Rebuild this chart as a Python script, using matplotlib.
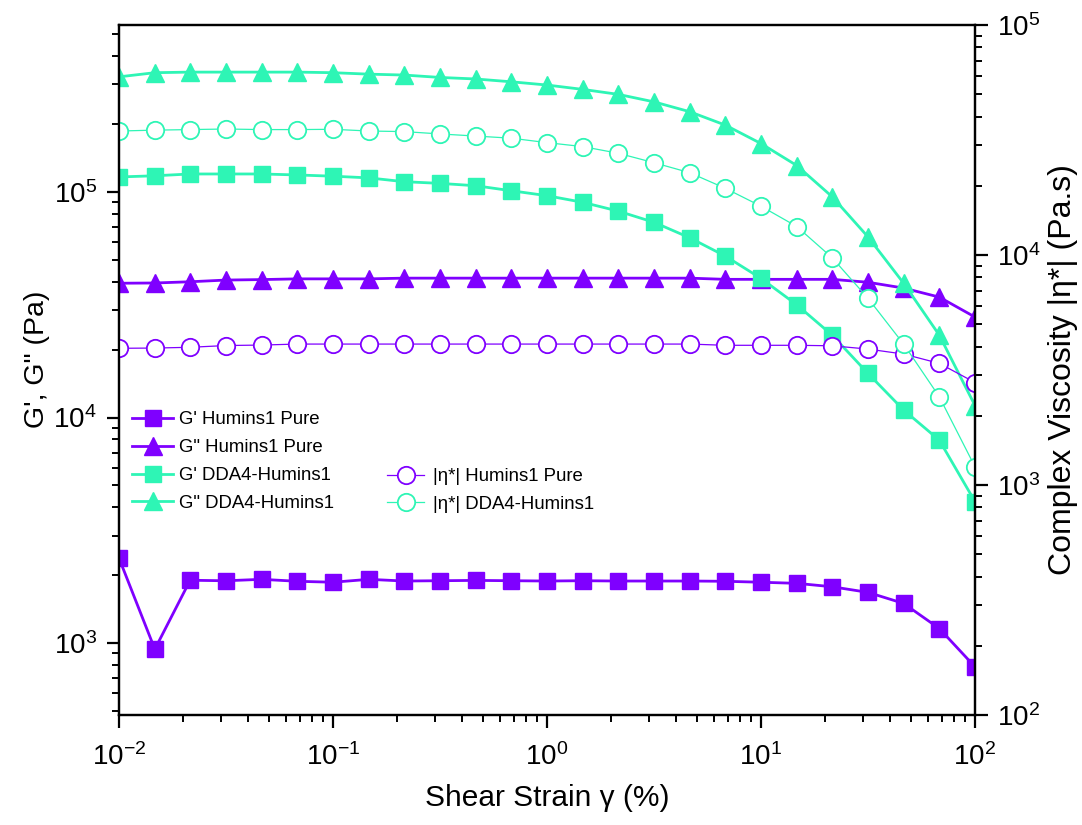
import math
import matplotlib
matplotlib.use("Agg")
import matplotlib.pyplot as plt
from matplotlib.ticker import LogLocator, FuncFormatter, NullFormatter

plt.rcParams['font.family'] = ['Liberation Sans', 'DejaVu Sans']
plt.rcParams['mathtext.fontset'] = 'custom'
plt.rcParams['mathtext.rm'] = 'Liberation Sans'
plt.rcParams['mathtext.it'] = 'Liberation Sans:italic'
plt.rcParams['mathtext.bf'] = 'Liberation Sans:bold'

# Shear strain (%) sweep, 6 points per decade
strain = [0.01, 0.0147, 0.0215, 0.0316, 0.0464, 0.0681,
          0.1, 0.147, 0.215, 0.316, 0.464, 0.681,
          1.0, 1.47, 2.15, 3.16, 4.64, 6.81,
          10.0, 14.7, 21.5, 31.6, 46.4, 68.1, 100.0]

# Storage / loss moduli (Pa)
g1_pure = [2380, 940, 1900, 1890, 1918, 1880, 1862, 1918, 1885, 1891, 1897, 1891,
           1885, 1891, 1885, 1885, 1885, 1880, 1862, 1841, 1778, 1679, 1500, 1161, 785]
g2_pure = [39400, 39500, 40000, 40700, 40900, 41200, 41200, 41200, 41500, 41500, 41500, 41500,
           41500, 41500, 41500, 41500, 41500, 41000, 41000, 41000, 41000, 39800, 37500, 34200, 27900]
g1_dda = [116600, 118000, 120200, 120200, 120200, 119000, 117500, 115500, 111100, 109200,
          106600, 101300, 96300, 90000, 82300, 73400, 62700, 52000, 41400, 31600,
          23200, 15700, 10800, 7940, 4240]
g2_dda = [324000, 338000, 340000, 340000, 340000, 340000, 338000, 333000, 330000, 322000,
          317000, 308000, 298000, 285000, 271000, 251000, 227000, 198000, 164000, 131000,
          95300, 63300, 39400, 23200, 11300]

# Complex viscosity (Pa.s)
eta_pure = [3930, 3940, 3970, 4040, 4060, 4100, 4100, 4100, 4100, 4100, 4100, 4100,
            4100, 4100, 4100, 4100, 4100, 4050, 4050, 4050, 4030, 3900, 3710, 3380, 2790]
eta_dda = [34600, 34900, 35100, 35300, 35100, 35100, 35200, 34600, 34400, 33600,
           32900, 32200, 30800, 29600, 27700, 25200, 22800, 19500, 16300, 13300,
           9730, 6490, 4100, 2420, 1200]

labels_g = ["G' Humins1 Pure", 'G" Humins1 Pure', "G' DDA4-Humins1", 'G" DDA4-Humins1']
labels_eta = ["|η*| Humins1 Pure", "|η*| DDA4-Humins1"]

purple = '#7F00FF'
green = '#2EF5B5'

fig = plt.figure(figsize=(10.82, 8.25), dpi=100)
ax = fig.add_axes([0.1100, 0.1333, 0.7911, 0.8364])
ax2 = ax.twinx()

lw = 2.0
h1, = ax.plot(strain, g1_pure, '-s', color=purple, lw=lw, ms=11, label=labels_g[0])
h2, = ax.plot(strain, g2_pure, '-^', color=purple, lw=lw, ms=12.5, label=labels_g[1])
h3, = ax.plot(strain, g1_dda, '-s', color=green, lw=lw, ms=11, label=labels_g[2])
h4, = ax.plot(strain, g2_dda, '-^', color=green, lw=lw, ms=12.5, label=labels_g[3])

h5, = ax2.plot(strain, eta_pure, '-o', color=purple, lw=0.9, ms=12.5, mfc='white',
               mec=purple, mew=1.3, label=labels_eta[0])
h6, = ax2.plot(strain, eta_dda, '-o', color=green, lw=0.9, ms=12.5, mfc='white',
               mec=green, mew=1.3, label=labels_eta[1])

ax.set_xscale('log')
ax.set_yscale('log')
ax2.set_yscale('log')
ax.set_xlim(0.01, 100)
ax.set_ylim(480, 5.5e5)
ax2.set_ylim(100, 1e5)


def sci(v, pos):
    e = int(round(math.log10(v)))
    return r'$\mathregular{10^{%d}}$' % e


for a in (ax, ax2):
    for s in a.spines.values():
        s.set_linewidth(1.6)

ax.xaxis.set_major_locator(LogLocator(base=10, numticks=10))
ax.xaxis.set_minor_locator(LogLocator(base=10, subs=range(2, 10), numticks=20))
ax.xaxis.set_major_formatter(FuncFormatter(sci))
ax.xaxis.set_minor_formatter(NullFormatter())
for a in (ax, ax2):
    a.yaxis.set_major_locator(LogLocator(base=10, numticks=10))
    a.yaxis.set_minor_locator(LogLocator(base=10, subs=range(2, 10), numticks=20))
    a.yaxis.set_major_formatter(FuncFormatter(sci))
    a.yaxis.set_minor_formatter(NullFormatter())

ax.tick_params(axis='x', which='major', direction='out', length=9, width=1.6,
               labelsize=20, top=False, pad=11)
ax.tick_params(axis='y', which='major', direction='out', length=9, width=1.6,
               labelsize=20, right=False, pad=7)
ax.tick_params(axis='both', which='minor', direction='out', length=5, width=1.4,
               top=False, right=False)
ax2.tick_params(axis='y', which='major', direction='out', length=9, width=1.6,
                labelsize=20, pad=7)
ax2.tick_params(axis='y', which='minor', direction='out', length=5, width=1.4)

ax.set_xlabel('Shear Strain γ (%)', fontsize=21.5, labelpad=10)
ax.set_ylabel('G\', G" (Pa)', fontsize=20.5)
ax.yaxis.set_label_coords(-0.081, 0.515)
ax2.set_ylabel('Complex Viscosity |η*| (Pa.s)', fontsize=23, labelpad=5)

ax.legend(handles=[h1, h2, h3, h4], loc='upper left',
          bbox_to_anchor=(0.0152, 0.440), frameon=False, fontsize=13.4,
          handlelength=2.2, handletextpad=0.3, labelspacing=0.58,
          borderpad=0, borderaxespad=0)
ax2.legend(handles=[h5, h6], loc='upper left',
           bbox_to_anchor=(0.313, 0.358), frameon=False, fontsize=13.4,
           handlelength=2.0, handletextpad=0.5, labelspacing=0.58,
           borderpad=0, borderaxespad=0)

fig.savefig('out.png', dpi=100)
